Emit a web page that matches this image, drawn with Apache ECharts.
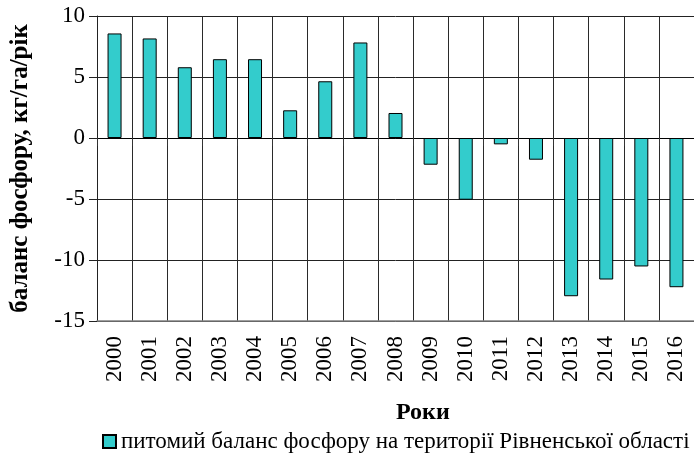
<!DOCTYPE html>
<html>
<head>
<meta charset="utf-8">
<script src="https://cdn.jsdelivr.net/npm/echarts@6/dist/echarts.min.js"></script>
<style>
html,body{margin:0;padding:0;background:#fff;}
#chart{width:694px;height:474px;}
</style>
</head>
<body>
<div id="chart"></div>
<script>
const years = ['2000','2001','2002','2003','2004','2005','2006','2007','2008','2009','2010','2011','2012','2013','2014','2015','2016'];
const balance = [8.57, 8.16, 5.8, 6.46, 6.46, 2.27, 4.65, 7.83, 2.05, -2.19, -5.06, -0.52, -1.78, -12.97, -11.6, -10.53, -12.23];
const yTicks = { min: -15, max: 10, interval: 5 };
const seriesName = 'питомий баланс фосфору на території Рівненської області';
const yTitle = 'баланс фосфору, кг/га/рік';
const xTitle = 'Роки';

const FONT = "'Liberation Serif', 'Times New Roman', serif";
const chart = echarts.init(document.getElementById('chart'), null, {renderer: 'canvas'});
chart.setOption({
  animation: false,
  backgroundColor: '#fff',
  title: {
    text: xTitle,
    left: 391, top: 396,
    textStyle: {fontFamily: FONT, fontSize: 24, fontWeight: 'bold', color: '#000'}
  },
  legend: {
    data: [seriesName],
    left: 97, top: 425,
    icon: 'rect', itemWidth: 13, itemHeight: 13, itemGap: 4,
    textStyle: {fontFamily: FONT, fontSize: 23, color: '#000'}
  },
  grid: {left: 95, right: -9, top: 16, bottom: 153, containLabel: false},
  xAxis: [
    {
      type: 'category', data: years, position: 'bottom',
      axisLine: {onZero: false, show: true, lineStyle: {color: '#808080', width: 1.5}},
      axisTick: {show: false},
      axisLabel: {rotate: 90, margin: 15, fontFamily: FONT, fontSize: 23, color: '#000'},
      splitLine: {show: true, lineStyle: {color: '#2a2a2a', width: 1}}
    },
    {
      type: 'category', data: years, position: 'bottom',
      axisLine: {onZero: true, show: true, lineStyle: {color: '#000', width: 1}},
      axisTick: {show: true, length: 8, lineStyle: {color: '#333'}},
      axisLabel: {show: false},
      splitLine: {show: false}
    }
  ],
  yAxis: {
    type: 'value', min: yTicks.min, max: yTicks.max, interval: yTicks.interval,
    name: yTitle, nameLocation: 'middle', nameGap: 64,
    nameTextStyle: {fontFamily: FONT, fontSize: 25, fontWeight: 'bold', color: '#000', padding: [0, 0, 0, 0]},
    axisLine: {show: true, onZero: false, lineStyle: {color: '#222'}},
    axisTick: {show: true, length: 8, lineStyle: {color: '#222'}},
    axisLabel: {fontFamily: FONT, fontSize: 23, color: '#000', margin: 12},
    splitLine: {show: true, lineStyle: {color: '#222', width: 1}}
  },
  series: [{
    name: seriesName,
    type: 'bar',
    xAxisIndex: 0,
    data: balance,
    barWidth: 14,
    itemStyle: {color: '#33CCCC', borderColor: '#000', borderWidth: 1}
  }]
});
</script>
</body>
</html>
